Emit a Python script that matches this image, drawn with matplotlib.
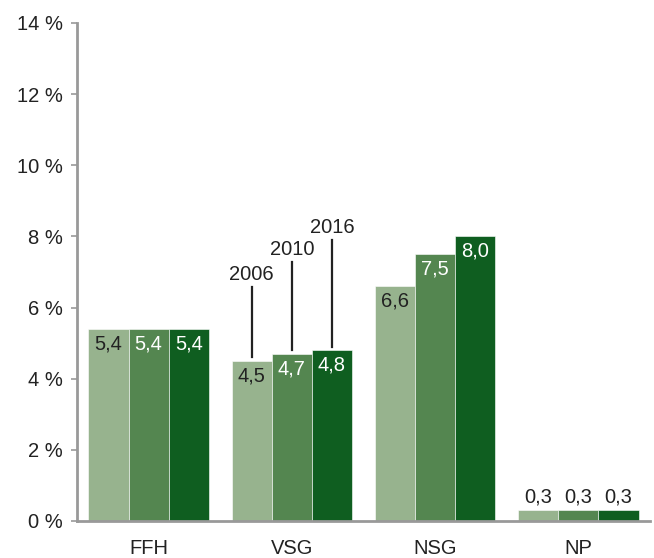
import numpy as np
import matplotlib
matplotlib.use('Agg')
import matplotlib.pyplot as plt

plt.rcParams['font.family'] = ['Liberation Sans', 'DejaVu Sans']

categories = ['FFH', 'VSG', 'NSG', 'NP']
years = ['2006', '2010', '2016']
values_2006 = [5.4, 4.5, 6.6, 0.3]
values_2010 = [5.4, 4.7, 7.5, 0.3]
values_2016 = [5.4, 4.8, 8.0, 0.3]
yticks = [0, 2, 4, 6, 8, 10, 12, 14]

colors = ['#97b38e', '#548650', '#0f5e20']
text_colors = ['#222222', 'white', 'white']
fs = 14.5

fig = plt.figure(figsize=(6.54, 5.58), dpi=100)
ax = fig.add_axes([77 / 654, 1 - 521 / 558, 573 / 654, 498 / 558])

x = np.arange(len(categories))
width = 0.28
series = [values_2006, values_2010, values_2016]

for i, vals in enumerate(series):
    pos = x + (i - 1) * width
    ax.bar(pos, vals, width=width, color=colors[i], edgecolor='white', linewidth=0.4)
    for j, (p, v) in enumerate(zip(pos, vals)):
        label = ('%.1f' % v).replace('.', ',')
        if v < 1:
            ax.text(p, v + 0.12, label, ha='center', va='bottom', fontsize=fs, color='#222222')
        else:
            ax.text(p, v - 0.15, label, ha='center', va='top', fontsize=fs, color=text_colors[i])

# year callouts on VSG group
callout_tops = [6.58, 7.28, 7.9]
for i, vals in enumerate(series):
    p = x[1] + (i - 1) * width
    ax.plot([p, p], [vals[1] + 0.1, callout_tops[i]], color='#222222', lw=1.6)
    ax.text(p, callout_tops[i] + 0.08, years[i], ha='center', va='bottom', fontsize=fs, color='#222222')

ax.set_xlim(-0.5, 3.5)
ax.set_ylim(0, 14)
ax.set_yticks(yticks)
ax.set_yticklabels(['%d %%' % t for t in yticks], fontsize=fs, color='#222222')
ax.set_xticks(x)
ax.set_xticklabels(categories, fontsize=fs, color='#222222')
ax.tick_params(axis='x', length=0, pad=13)
ax.tick_params(axis='y', length=4, width=1.2, color='#999999', pad=6)
for s in ['top', 'right']:
    ax.spines[s].set_visible(False)
for s in ['left', 'bottom']:
    ax.spines[s].set_color('#999999')
    ax.spines[s].set_linewidth(2)

fig.savefig('out.png', dpi=100)
